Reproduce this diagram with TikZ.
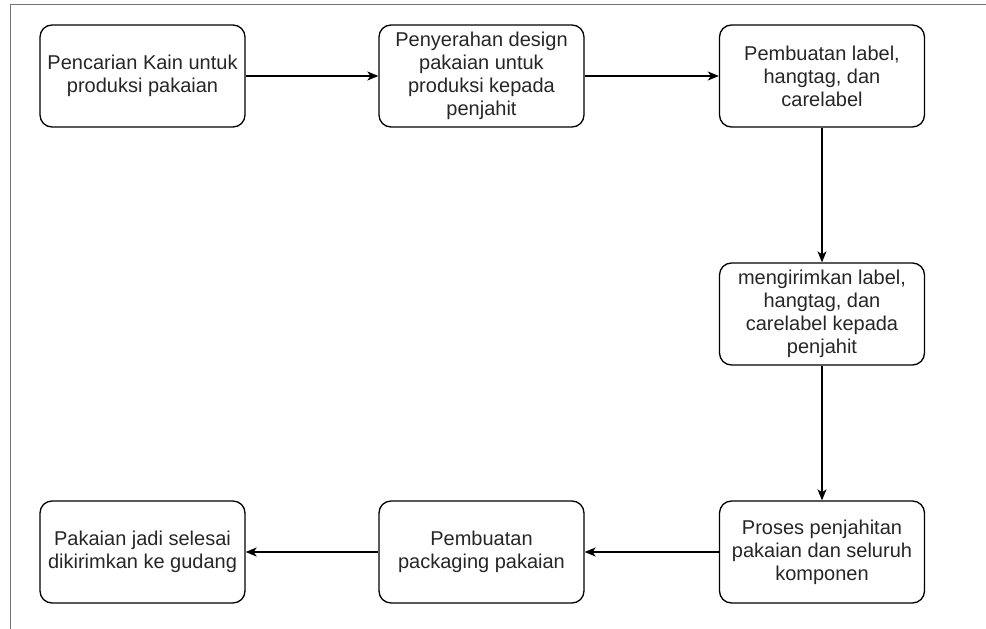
\documentclass[tikz,border=0pt]{standalone}
\usepackage{fontspec}
\setmainfont{Liberation Sans}
\usetikzlibrary{arrows.meta}
\begin{document}
\begin{tikzpicture}[x=1pt,y=-1pt,
  box/.style={draw, line width=1.3pt, rounded corners=12pt, minimum width=205pt, minimum height=102pt,
    align=center, inner sep=0pt, font=\fontsize{20pt}{23pt}\selectfont, text=black!85},
  conn/.style={line width=1.3pt, -{Stealth[length=11pt,width=9pt,inset=3pt]}}]
\useasboundingbox (0,0) rectangle (986,629);
\draw[line width=1.2pt, black!55] (10.5,629) -- (10.5,4.5) -- (986,4.5);
\node[box] (b1) at (142.5,76) {Pencarian Kain untuk\\produksi pakaian};
\node[box] (b2) at (481.5,76) {Penyerahan design\\pakaian untuk\\produksi kepada\\penjahit};
\node[box] (b3) at (822,76) {Pembuatan label,\\hangtag, dan\\carelabel};
\node[box] (b4) at (822,314) {mengirimkan label,\\hangtag, dan\\carelabel kepada\\penjahit};
\node[box] (b5) at (822,552) {Proses penjahitan\\pakaian dan seluruh\\komponen};
\node[box] (b6) at (481.5,552) {Pembuatan\\packaging pakaian};
\node[box] (b7) at (142.5,552) {Pakaian jadi selesai\\dikirimkan ke gudang};
\draw[conn] (b1) -- (b2);
\draw[conn] (b2) -- (b3);
\draw[conn] (b3) -- (b4);
\draw[conn] (b4) -- (b5);
\draw[conn] (b5) -- (b6);
\draw[conn] (b6) -- (b7);
\end{tikzpicture}
\end{document}
